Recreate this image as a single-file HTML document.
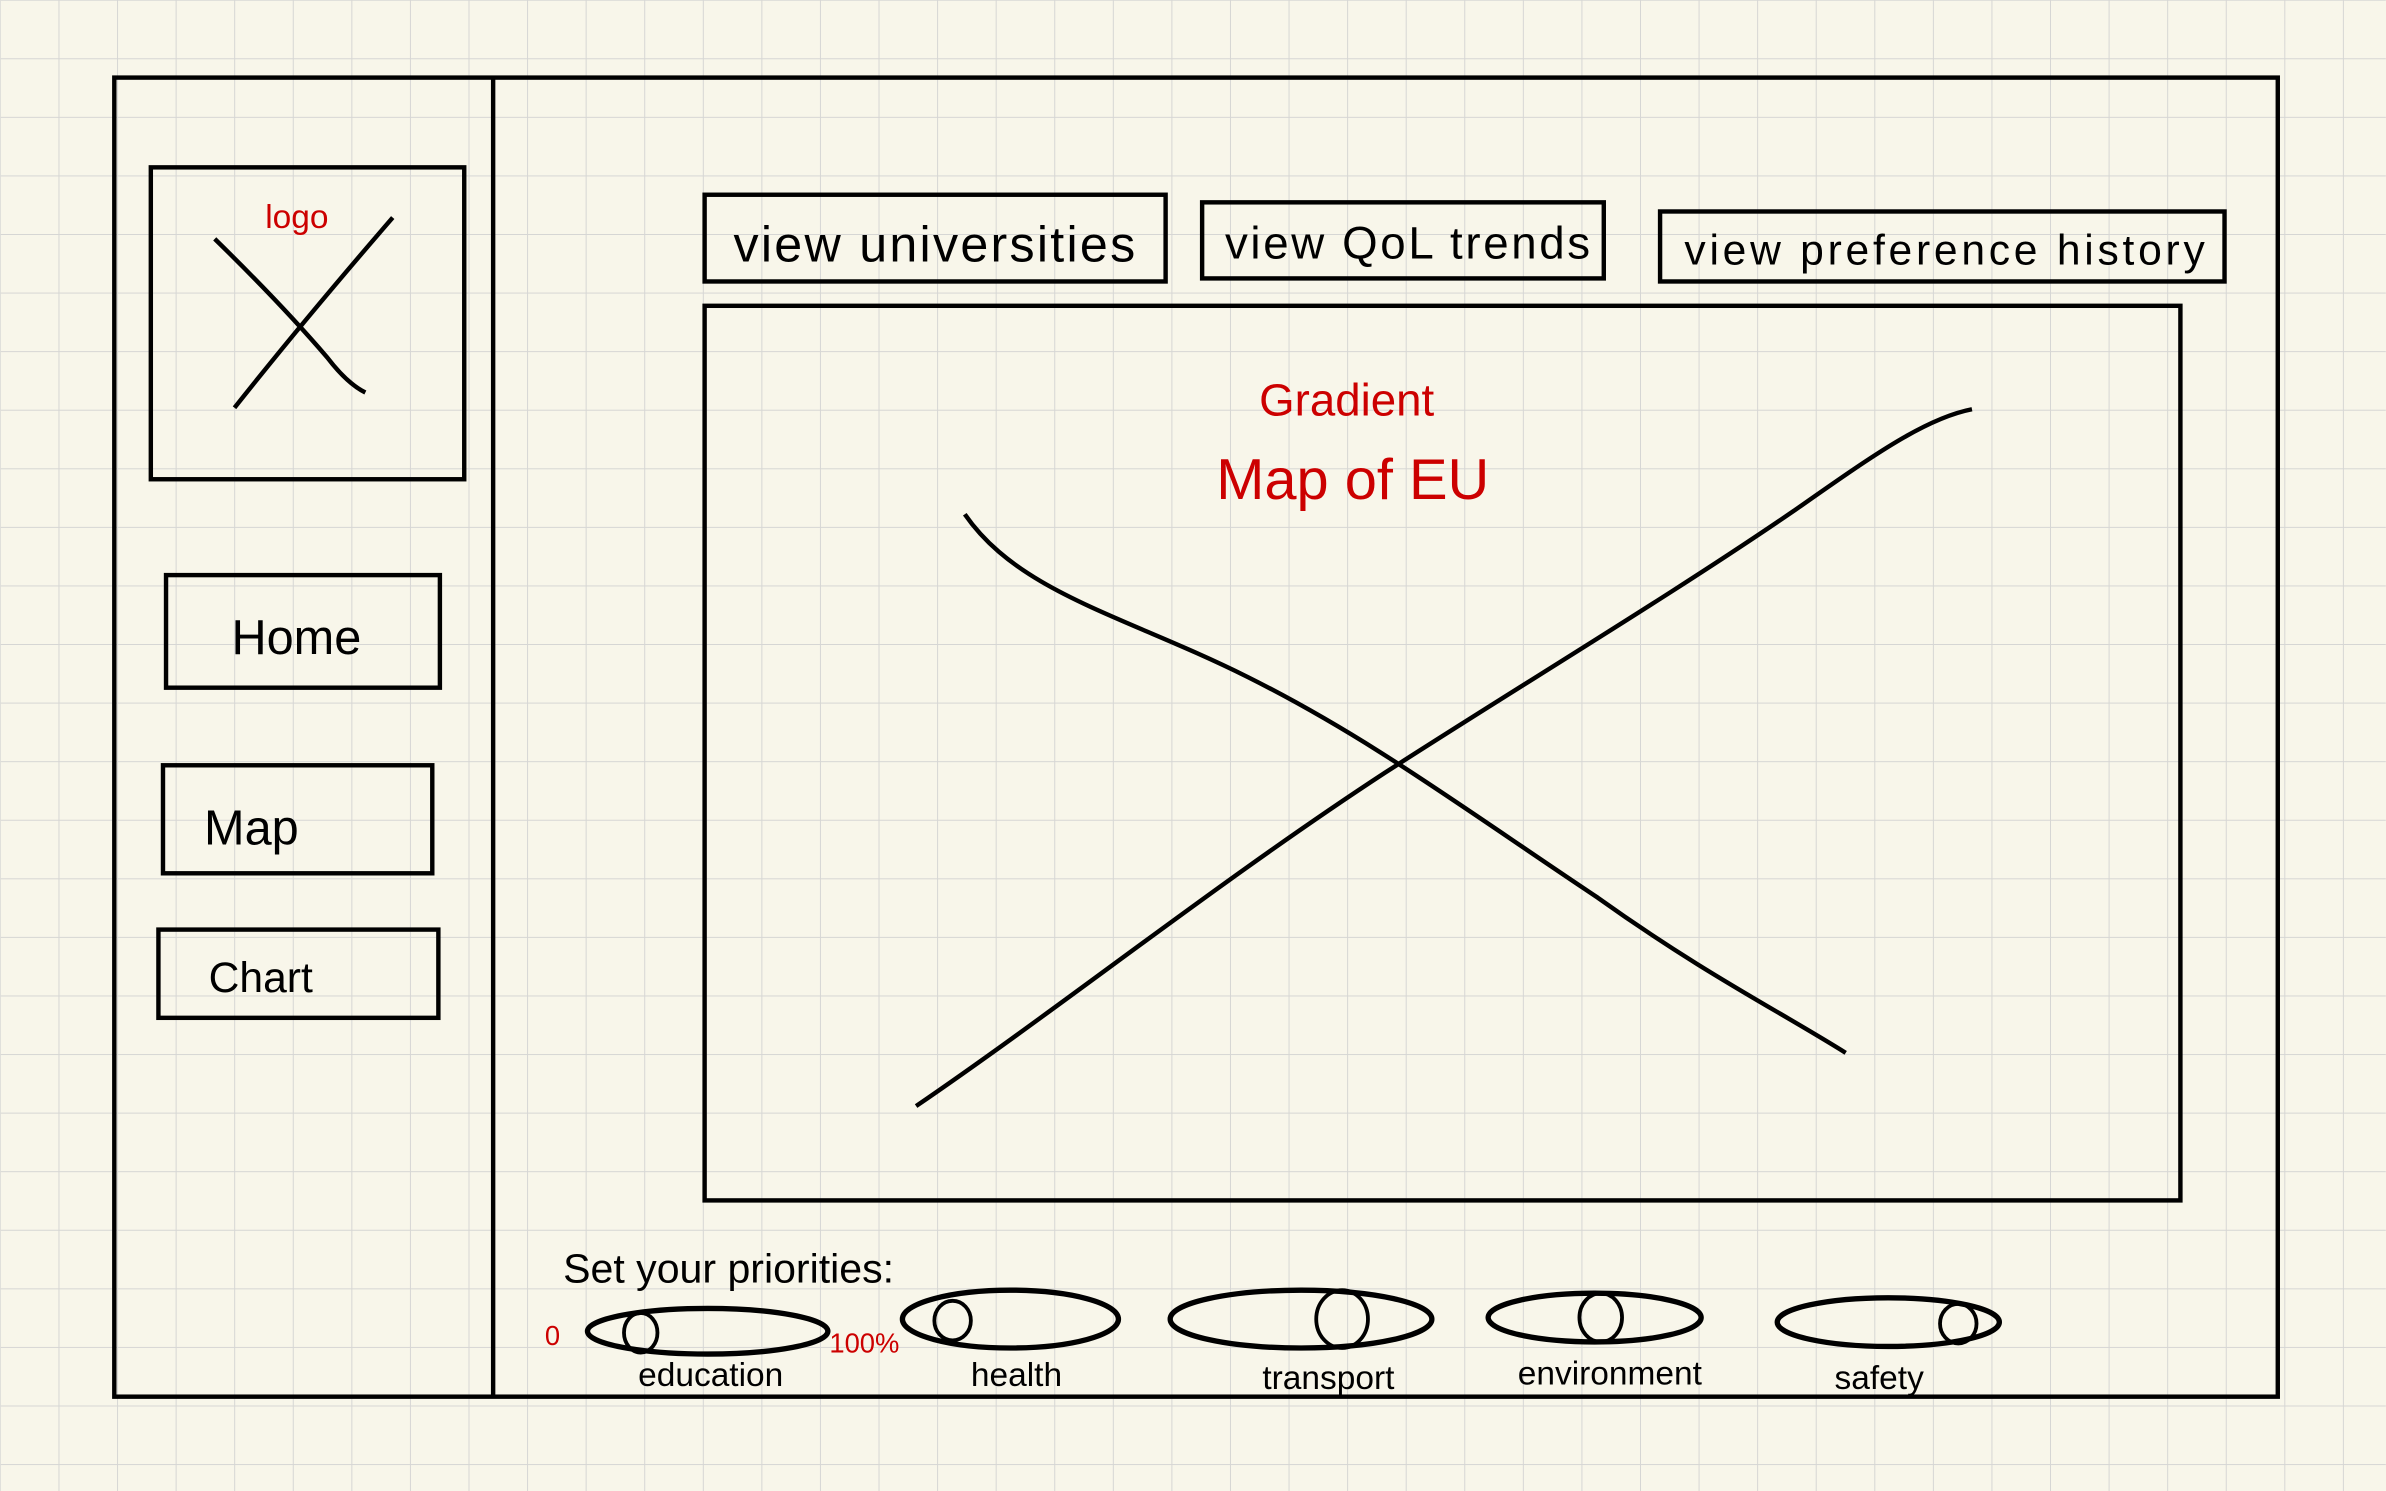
<!DOCTYPE html>
<html><head><meta charset="utf-8"><style>
html,body{margin:0;padding:0;background:#f8f6ea;}
svg{display:block;}
text{font-family:"Liberation Sans",sans-serif;}
</style></head><body>
<svg width="2386" height="1491" viewBox="0 0 1568 980" xmlns="http://www.w3.org/2000/svg">
<defs>
<pattern id="grid" x="38.3" y="38.3" width="38.5" height="38.5" patternUnits="userSpaceOnUse">
<path d="M0 0 V38.5 M0 0 H38.5" stroke="#d6d6d4" stroke-width="1.3" fill="none"/>
</pattern>
</defs>
<rect width="1568" height="980" fill="#f8f6ea"/>
<rect width="1568" height="980" fill="url(#grid)"/>
<g fill="none" stroke="#000" stroke-width="2.9">
<rect x="75" y="51" width="1422" height="867"/>
<line x1="324" y1="51" x2="324" y2="918"/>
<rect x="99" y="110" width="206" height="205"/>
<path d="M141 157 Q185 200 215 235 Q228 252 240 258 M154 268 Q200 210 258 143"/>
<rect x="109" y="378" width="180" height="74"/>
<rect x="107" y="503" width="177" height="71"/>
<rect x="104" y="611" width="184" height="58"/>
<rect x="463" y="128" width="303" height="57"/>
<rect x="790" y="133" width="264" height="50"/>
<rect x="1091" y="139" width="371" height="46"/>
<rect x="463" y="201" width="970" height="588"/>
<path d="M634 338 C670 390 740 405 820 445 C900 485 960 530 1050 590 C1120 640 1170 665 1213 692"/>
<path d="M602 727 C700 660 800 580 910 508 C1000 450 1100 390 1180 335 C1230 300 1265 275 1296 269"/>
</g>
<text x="195" y="150" font-size="22" fill="#cc0000" text-anchor="middle">logo</text>
<text x="152" y="430" font-size="32">Home</text>
<text x="134" y="555" font-size="32">Map</text>
<text x="137" y="652" font-size="28">Chart</text>
<text x="482" y="172" font-size="33" textLength="264">view universities</text>
<text x="805" y="170" font-size="30" textLength="240">view QoL trends</text>
<text x="1107" y="174" font-size="28" textLength="342">view preference history</text>
<text x="885" y="273" font-size="30" fill="#cc0000" text-anchor="middle">Gradient</text>
<text x="889" y="328" font-size="38" fill="#cc0000" text-anchor="middle">Map of EU</text>
<text x="370" y="843" font-size="27">Set  your  priorities:</text>
<text x="363" y="884" font-size="18" fill="#cc0000" text-anchor="middle">0</text>
<text x="568" y="889" font-size="18" fill="#cc0000" text-anchor="middle">100%</text>
<g fill="none" stroke="#000">
<g>
<ellipse cx="465" cy="875" rx="79" ry="15" stroke-width="3.5"/>
<ellipse cx="421" cy="876" rx="11" ry="13" stroke-width="2.5"/>
</g>
<g>
<ellipse cx="664" cy="867" rx="71" ry="19" stroke-width="3.5"/>
<ellipse cx="626" cy="868" rx="12" ry="13" stroke-width="2.5"/>
</g>
<g>
<ellipse cx="855" cy="867" rx="86" ry="19" stroke-width="3.5"/>
<ellipse cx="882" cy="867" rx="17" ry="19" stroke-width="2.5"/>
</g>
<g>
<ellipse cx="1048" cy="866" rx="70" ry="16" stroke-width="3.5"/>
<ellipse cx="1052" cy="866" rx="14" ry="16" stroke-width="2.5"/>
</g>
<g>
<ellipse cx="1241" cy="869" rx="73" ry="16" stroke-width="3.5"/>
<ellipse cx="1287" cy="870" rx="12" ry="13" stroke-width="2.5"/>
</g>
</g>
<g font-size="22" text-anchor="middle">
<text x="467" y="911">education</text>
<text x="668" y="911">health</text>
<text x="873" y="913">transport</text>
<text x="1058" y="910">environment</text>
<text x="1235" y="913">safety</text>
</g>
</svg>
</body></html>
